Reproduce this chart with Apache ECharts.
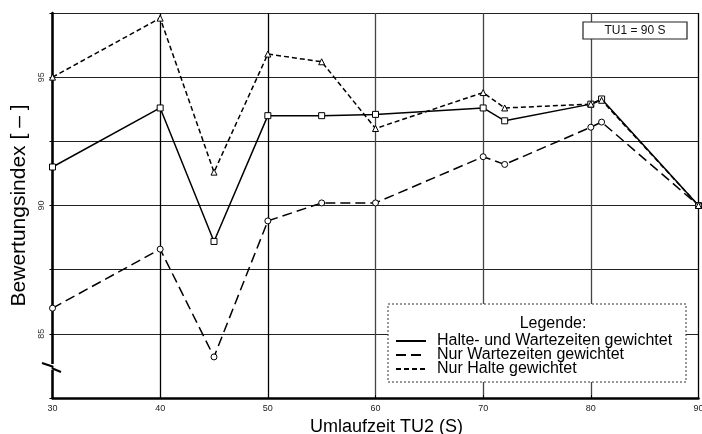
<!DOCTYPE html>
<html>
<head>
<meta charset="utf-8">
<script src="https://cdn.jsdelivr.net/npm/echarts@6/dist/echarts.min.js"></script>
<style>html,body{margin:0;padding:0;background:#fff}#c{width:702px;height:434px}</style>
</head>
<body>
<div id="c"></div>
<script>
const xValues = [30, 40, 45, 50, 55, 60, 70, 72, 80, 81, 90];
const seriesNames = ['Halte- und Wartezeiten gewichtet', 'Nur Wartezeiten gewichtet', 'Nur Halte gewichtet'];
const halteUndWarte = [91.5, 93.8, 88.6, 93.5, 93.5, 93.55, 93.8, 93.3, 93.95, 94.15, 90.0];
const nurWarte = [86.0, 88.3, 84.1, 89.4, 90.1, 90.1, 91.9, 91.6, 93.05, 93.25, 90.0];
const nurHalte = [95.0, 97.3, 91.3, 95.9, 95.6, 93.0, 94.4, 93.8, 93.95, 94.1, 90.0];
const xTicks = [30, 40, 50, 60, 70, 80, 90];
const yTickLabels = [85, 90, 95];

const toPairs = arr => xValues.map((x, i) => [x, arr[i]]);
const font = 'Liberation Sans, Arial, sans-serif';

const chart = echarts.init(document.getElementById('c'), null, {renderer: 'canvas'});
chart.setOption({
  animation: false,
  backgroundColor: '#fff',
  grid: {left: 52.5, right: 3.5, top: 13, bottom: 36, outerBoundsMode: 'none', containLabel: false},
  xAxis: {
    type: 'value', min: 30, max: 90, interval: 10,
    name: 'Umlaufzeit TU2 (S)', nameLocation: 'middle', nameGap: 19,
    nameTextStyle: {fontFamily: font, fontSize: 18, color: '#000', padding: [0, 0, 0, 22]},
    axisLine: {show: true, lineStyle: {color: '#000', width: 2.5}},
    axisTick: {show: true, length: 3, inside: true, lineStyle: {color: '#000'}},
    axisLabel: {
      fontFamily: font, fontSize: 9, color: '#222', margin: 6,
      formatter: v => xTicks.includes(v) ? String(v) : ''
    },
    splitLine: {show: true, lineStyle: {color: ['#000', '#000', '#000', '#444', '#444', '#444', '#000'], width: 1.3}}
  },
  yAxis: {
    type: 'value', min: 82.5, max: 97.5, interval: 2.5,
    name: 'Bewertungsindex [ – ]', nameLocation: 'middle', nameGap: 22, nameRotate: 90,
    nameTextStyle: {fontFamily: font, fontSize: 21, color: '#000'},
    axisLine: {show: true, lineStyle: {color: '#000', width: 2.5}},
    axisTick: {show: true, length: 3, lineStyle: {color: '#000'}},
    axisLabel: {
      fontFamily: font, fontSize: 9, color: '#333', rotate: 90, margin: 6,
      formatter: v => yTickLabels.includes(v) ? String(v) : ''
    },
    splitLine: {show: true, lineStyle: {color: '#222', width: 1}}
  },
  legend: {
    orient: 'vertical', left: 390, top: 328, itemWidth: 30, itemHeight: 10, itemGap: -2,
    padding: 5,
    textStyle: {fontFamily: font, fontSize: 16, lineHeight: 14, color: '#000', padding: [0, 0, 0, 6]},
    itemStyle: {opacity: 0},
    data: seriesNames, z: 10
  },
  series: [
    {
      name: seriesNames[0], type: 'line', data: toPairs(halteUndWarte),
      symbol: 'rect', symbolSize: 6,
      lineStyle: {color: '#000', width: 1.5, type: 'solid'},
      itemStyle: {color: '#fff', borderColor: '#000', borderWidth: 1}
    },
    {
      name: seriesNames[1], type: 'line', data: toPairs(nurWarte),
      symbol: 'circle', symbolSize: 6,
      lineStyle: {color: '#000', width: 1.5, type: [10, 5]},
      itemStyle: {color: '#fff', borderColor: '#000', borderWidth: 1}
    },
    {
      name: seriesNames[2], type: 'line', data: toPairs(nurHalte),
      symbol: 'triangle', symbolSize: 6,
      lineStyle: {color: '#000', width: 1.5, type: [5, 3]},
      itemStyle: {color: '#fff', borderColor: '#000', borderWidth: 1}
    }
  ],
  graphic: [
    {type: 'rect', z: 5, shape: {x: 388, y: 304, width: 298, height: 78},
     style: {fill: '#fff', stroke: '#333', lineWidth: 1, lineDash: [2, 2]}},
    {type: 'text', z: 6, x: 553, y: 324,
     style: {text: 'Legende:', font: '16px ' + font, fill: '#000', align: 'center', verticalAlign: 'middle'}},
    {type: 'rect', z: 5, shape: {x: 583, y: 22, width: 104, height: 17},
     style: {fill: '#fff', stroke: '#222', lineWidth: 1.2}},
    {type: 'text', z: 6, x: 635, y: 31,
     style: {text: 'TU1 = 90 S', font: '12px ' + font, fill: '#111', align: 'center', verticalAlign: 'middle'}},
    {type: 'rect', z: 5, shape: {x: 50, y: 364, width: 6, height: 6}, style: {fill: '#fff'}},
    {type: 'polyline', z: 6, shape: {points: [[42, 363], [52.5, 366.5], [52.5, 368.5], [61, 372]]},
     style: {stroke: '#000', lineWidth: 2, fill: null}}
  ]
});
</script>
</body>
</html>
